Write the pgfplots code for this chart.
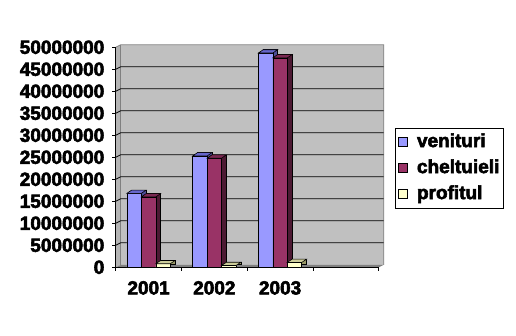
\documentclass[border=0pt]{standalone}
\usepackage{pgfplots}
\usepackage{pgfplotstable}
\pgfplotsset{compat=1.18}
\usepackage{fontspec}
\setmainfont{Liberation Sans}[BoldFeatures={FakeBold=3}]
\definecolor{venF}{HTML}{9999FF}
\definecolor{venT}{HTML}{6666CC}
\definecolor{venS}{HTML}{4D4D99}
\definecolor{chF}{HTML}{993366}
\definecolor{chT}{HTML}{7A2952}
\definecolor{chS}{HTML}{4D1A33}
\definecolor{prF}{HTML}{FFFFCC}
\definecolor{prT}{HTML}{CCCC99}
\definecolor{prS}{HTML}{999966}
\definecolor{wall}{HTML}{C0C0C0}
\definecolor{lwall}{HTML}{B4B4B4}
\definecolor{floorc}{HTML}{808080}
\pgfdeclareplotmark{topface}{%
  \pgfpathmoveto{\pgfqpoint{-7.23pt}{0pt}}%
  \pgfpathlineto{\pgfqpoint{7.23pt}{0pt}}%
  \pgfpathlineto{\pgfqpoint{12.03pt}{3.3pt}}%
  \pgfpathlineto{\pgfqpoint{-2.43pt}{3.3pt}}%
  \pgfpathclose
  \pgfusepathqfillstroke}
\pgfplotstableread{
x ven ch pr
0.5 16800000 16000000 800000
1.5 25300000 24800000 400000
2.5 48700000 47600000 1100000
}\data
\begin{document}
\begin{tikzpicture}
\useasboundingbox (0,0) rectangle (516pt,336pt);
\begin{axis}[
  at={(115.7pt,68.7pt)}, anchor=south west,
  scale only axis, width=263pt, height=220pt,
  xmin=0, xmax=4, ymin=0, ymax=50000000,
  enlargelimits=false, clip=false,
  scaled y ticks=false,
  axis x line*=bottom, axis y line*=left,
  axis line style={-, black, line width=0.8pt},
  tick align=outside, major tick length=3.5pt,
  tick style={black, line width=0.8pt},
  xtick={0,1,2,3,4}, xticklabels={},
  extra x ticks={0.5,1.5,2.5},
  extra x tick labels={2001,2002,2003},
  extra x tick style={major tick length=0pt},
  ytick={0,5000000,10000000,15000000,20000000,25000000,30000000,35000000,40000000,45000000,50000000},
  yticklabels={0,5000000,10000000,15000000,20000000,25000000,30000000,35000000,40000000,45000000,50000000},
  tick label style={font=\bfseries\fontsize{19}{22}\selectfont},
  yticklabel style={inner sep=0pt, anchor=east, xshift=-7.7pt},
  xticklabel style={inner sep=0pt, anchor=north, yshift=-13.7pt},
  legend style={at={(1.062,0.451)}, anchor=west, draw=black, line width=0.8pt,
    font=\bfseries\fontsize{19}{22}\selectfont, row sep=6pt,
    inner xsep=3pt, inner ysep=4pt,
    nodes={inner sep=1pt, text height=14pt, text depth=4pt},
    /tikz/every odd column/.append style={column sep=8pt}},
  legend cell align=left,
  legend image code/.code={\draw[#1, line width=0.6pt] (0pt,-4.5pt) rectangle (9pt,4.5pt);},
]
\fill[wall] ([shift={(5pt,2.5pt)}]rel axis cs:0,0) rectangle ([shift={(5pt,2.5pt)}]rel axis cs:1,1);
\fill[lwall] (rel axis cs:0,0) -- (rel axis cs:0,1) -- ([shift={(5pt,2.5pt)}]rel axis cs:0,1) -- ([shift={(5pt,2.5pt)}]rel axis cs:0,0) -- cycle;
\fill[floorc] (rel axis cs:0,0) -- (rel axis cs:1,0) -- ([shift={(5pt,2.5pt)}]rel axis cs:1,0) -- ([shift={(5pt,2.5pt)}]rel axis cs:0,0) -- cycle;
\draw[gray, line width=0.8pt] (rel axis cs:0,1) -- ([shift={(5pt,2.5pt)}]rel axis cs:0,1) -- ([shift={(5pt,2.5pt)}]rel axis cs:1,1) -- ([shift={(5pt,2.5pt)}]rel axis cs:1,0);
\draw[gray, line width=0.8pt] ([shift={(5pt,2.5pt)}]rel axis cs:0,0) -- ([shift={(5pt,2.5pt)}]rel axis cs:0,1);
\pgfplotsinvokeforeach{5000000,10000000,15000000,20000000,25000000,30000000,35000000,40000000,45000000}{
  \draw[black, line width=0.8pt] (axis cs:0,#1) -- ([shift={(5pt,2.5pt)}]axis cs:0,#1) -- ([shift={(5pt,2.5pt)}]axis cs:4,#1);
}
\draw[black, line width=0.8pt] (rel axis cs:0,1) -- (rel axis cs:0,0) -- (rel axis cs:1,0);
% venituri
\addplot[ybar, bar width=0.22, bar shift=-0.147, yshift=3.3pt, fill=venS, draw=black, line width=0.6pt, forget plot] table[x=x,y=ven]{\data};
\addplot[only marks, mark=topface, mark options={fill=venT, draw=black, line width=0.6pt}, xshift=-14.465pt, forget plot] table[x=x,y=ven]{\data};
\addplot[ybar, bar width=0.22, bar shift=-0.22, fill=venF, draw=black, line width=0.6pt] table[x=x,y=ven]{\data};
% cheltuieli
\addplot[ybar, bar width=0.22, bar shift=0.073, yshift=3.3pt, fill=chS, draw=black, line width=0.6pt, forget plot] table[x=x,y=ch]{\data};
\addplot[only marks, mark=topface, mark options={fill=chT, draw=black, line width=0.6pt}, forget plot] table[x=x,y=ch]{\data};
\addplot[ybar, bar width=0.22, bar shift=0, fill=chF, draw=black, line width=0.6pt] table[x=x,y=ch]{\data};
% profitul
\addplot[ybar, bar width=0.22, bar shift=0.293, yshift=3.3pt, fill=prS, draw=black, line width=0.6pt, forget plot] table[x=x,y=pr]{\data};
\addplot[only marks, mark=topface, mark options={fill=prT, draw=black, line width=0.6pt}, xshift=14.465pt, forget plot] table[x=x,y=pr]{\data};
\addplot[ybar, bar width=0.22, bar shift=0.22, fill=prF, draw=black, line width=0.6pt] table[x=x,y=pr]{\data};
\legend{venituri,cheltuieli,profitul}
\end{axis}
\end{tikzpicture}
\end{document}
